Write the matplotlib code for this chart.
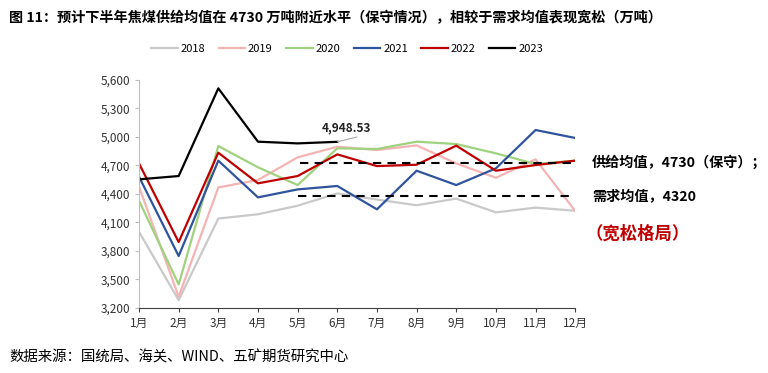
import numpy as np
import matplotlib.pyplot as plt

plt.rcParams['font.family'] = ['Noto Sans CJK SC', 'DejaVu Sans']

months = ['1月', '2月', '3月', '4月', '5月', '6月', '7月', '8月', '9月', '10月', '11月', '12月']
y2018 = [4000, 3280, 4140, 4185, 4275, 4405, 4340, 4280, 4350, 4205, 4255, 4222]
y2019 = [4476, 3316, 4468, 4546, 4785, 4897, 4862, 4911, 4721, 4570, 4764, 4219]
y2020 = [4328, 3446, 4904, 4680, 4493, 4880, 4873, 4950, 4925, 4827, 4714, 4750]
y2021 = [4581, 3745, 4750, 4363, 4447, 4483, 4237, 4644, 4493, 4669, 5073, 4989]
y2022 = [4721, 3892, 4834, 4511, 4588, 4816, 4693, 4707, 4908, 4644, 4704, 4750]
y2023 = [4553, 4588, 5512, 4950, 4932, 4948.53]
supply_avg = 4730
demand_avg = 4380  # drawn position of the 4320 line

series = [('2018', y2018, '#c9c9c9'), ('2019', y2019, '#f4b4b4'),
          ('2020', y2020, '#9fd27e'), ('2021', y2021, '#2f539c'),
          ('2022', y2022, '#c00000'), ('2023', y2023, '#000000')]

fig = plt.figure(figsize=(7.68, 3.73), dpi=100)
ax = fig.add_axes([0.181, 0.175, 0.568, 0.6105])

x = np.arange(len(months))
for name, vals, c in series:
    ax.plot(x[:len(vals)], vals, color=c, lw=1.6, label=name)

ax.hlines(supply_avg, 4.05, 11, colors='black', linestyles=(0, (4, 3)), lw=1.5)
ax.hlines(demand_avg, 4.0, 11.1, colors='black', linestyles=(0, (4, 3)), lw=1.5)

ax.set_xlim(0, 11)
ax.set_ylim(3200, 5600)
ax.set_yticks(np.arange(3200, 5601, 300))
ax.set_yticklabels([f'{v:,}' for v in range(3200, 5601, 300)])
ax.set_xticks(x)
ax.set_xticklabels(months)
ax.tick_params(axis='both', labelsize=8.5, colors='#333333', length=3)
ax.tick_params(axis='y', length=3, color='#bfbfbf')
ax.tick_params(axis='x', color='#404040')
for s in ['top', 'right']:
    ax.spines[s].set_visible(False)
ax.spines['left'].set_color('#bfbfbf')
ax.spines['bottom'].set_color('#404040')

# annotation for latest 2023 value
ax.annotate('4,948.53', xy=(5, y2023[5]), xytext=(4.6, 5060),
            fontsize=8.5, fontweight='bold', color='#222222',
            arrowprops=dict(arrowstyle='-', color='#a6a6a6', lw=0.8,
                            shrinkA=0, shrinkB=0, relpos=(0.95, 0.0)))

ax.legend(loc='lower center', bbox_to_anchor=(0.477, 1.07), ncol=6, frameon=False,
          fontsize=8, handlelength=2.4, columnspacing=1.2, handletextpad=0.25)

fig.text(0.771, 0.565, '供给均值，4730（保守）；', fontsize=10.2, fontweight='bold', va='center')
fig.text(0.771, 0.472, '需求均值，4320', fontsize=10.2, fontweight='bold', va='center')
fig.text(0.762, 0.373, '（宽松格局）', fontsize=12.5, fontweight='bold', color='#c00000', va='center')

fig.text(0.012, 0.952, '图 11：预计下半年焦煤供给均值在 4730 万吨附近水平（保守情况），相较于需求均值表现宽松（万吨）',
         fontsize=10.2, fontweight='bold', va='center')
fig.text(0.012, 0.043, '数据来源：国统局、海关、WIND、五矿期货研究中心', fontsize=10.4, va='center')

fig.savefig('out.png', dpi=100)
